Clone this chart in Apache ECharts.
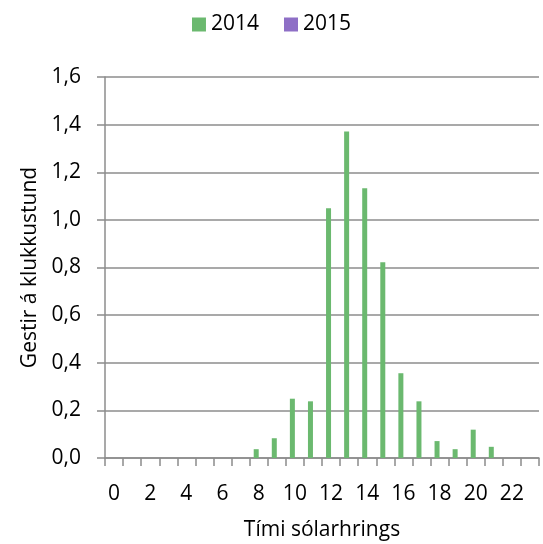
<!DOCTYPE html>
<html>
<head>
<meta charset="utf-8">
<script src="https://cdn.jsdelivr.net/npm/echarts@6/dist/echarts.min.js"></script>
<style>html,body{margin:0;padding:0;background:#fff;}#c{width:543px;height:544px;}</style>
</head>
<body>
<div id="c"></div>
<script>
const hours = ['0','1','2','3','4','5','6','7','8','9','10','11','12','13','14','15','16','17','18','19','20','21','22','23'];
const values2014 = [0,0,0,0,0,0,0,0,0.037,0.083,0.249,0.238,1.049,1.371,1.133,0.822,0.356,0.238,0.071,0.037,0.119,0.047,0,0];
const values2015 = [0,0,0,0,0,0,0,0,0,0,0,0,0,0,0,0,0,0,0,0,0,0,0,0];
const seriesNames = ['2014','2015'];
const xTitle = 'Tími sólarhrings';
const yTitle = 'Gestir á klukkustund';

const FONT = 'Open Sans';
const FS = 21;
const chart = echarts.init(document.getElementById('c'));
chart.setOption({
  animation: false,
  textStyle: { fontFamily: FONT },
  legend: {
    top: 9, left: 'center',
    icon: 'rect', itemWidth: 14, itemHeight: 14, itemGap: 25,
    textStyle: { fontSize: FS, color: '#000', fontFamily: FONT }
  },
  grid: { left: 105, right: 4, top: 77, bottom: 86, containLabel: false, outerBoundsMode: 'none' },
  xAxis: {
    type: 'category',
    data: hours,
    name: xTitle,
    nameLocation: 'middle',
    nameGap: 62,
    nameTextStyle: { fontSize: FS, color: '#000', fontFamily: FONT },
    axisLine: { lineStyle: { color: '#8c8c8c', width: 1.5 } },
    axisTick: { show: true, interval: 0, length: 8, lineStyle: { color: '#8c8c8c', width: 1.5 } },
    axisLabel: { interval: 1, fontSize: FS, color: '#000', margin: 26, fontFamily: FONT }
  },
  yAxis: {
    type: 'value',
    min: 0, max: 1.6, interval: 0.2,
    name: yTitle,
    nameLocation: 'middle',
    nameGap: 64,
    nameTextStyle: { fontSize: FS, color: '#000', fontFamily: FONT },
    axisLine: { show: true, lineStyle: { color: '#8c8c8c', width: 1.5 } },
    axisTick: { show: true, length: 8, lineStyle: { color: '#8c8c8c', width: 1.5 } },
    splitLine: { lineStyle: { color: '#8c8c8c', width: 1.5 } },
    axisLabel: {
      fontSize: FS, color: '#000', margin: 24, fontFamily: FONT,
      formatter: v => v.toFixed(1).replace('.', ',')
    }
  },
  series: [
    { name: seriesNames[0], type: 'bar', data: values2014, barWidth: 5, barGap: '0%', itemStyle: { color: '#6bb96f' } },
    { name: seriesNames[1], type: 'bar', data: values2015, barWidth: 5, barGap: '0%', itemStyle: { color: '#8e6fc6' } }
  ]
});
</script>
</body>
</html>
